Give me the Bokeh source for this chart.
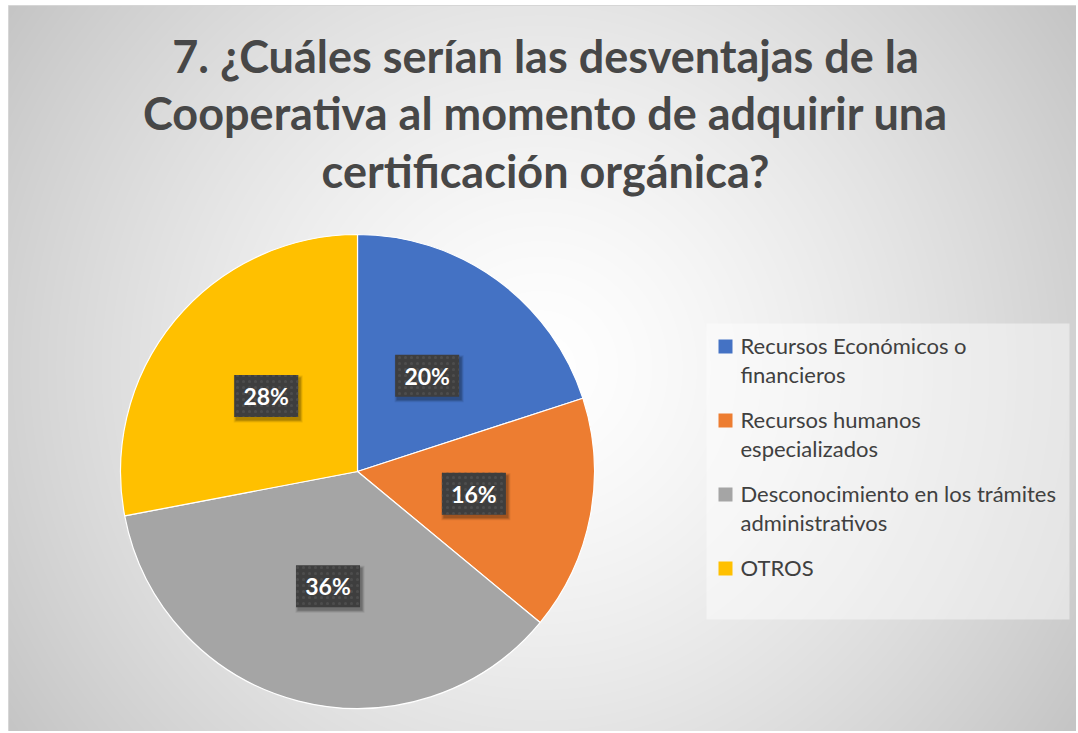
import numpy as np
from bokeh.plotting import figure
from bokeh.models import Range1d, ColumnDataSource
from bokeh.core.properties import value
from bokeh.embed import file_html
from bokeh.resources import INLINE

# ---- data ----
categories = ["Recursos Económicos o financieros",
              "Recursos humanos especializados",
              "Desconocimiento en los trámites administrativos",
              "OTROS"]
legend_labels = ["Recursos Económicos o\nfinancieros",
                 "Recursos humanos\nespecializados",
                 "Desconocimiento en los trámites\nadministrativos",
                 "OTROS"]
shares = [20, 16, 36, 28]
colors = ["#4472C4", "#ED7D31", "#A5A5A5", "#FFC000"]
title_lines = ["7. ¿Cuáles serían las desventajas de la",
               "Cooperativa al momento de adquirir una",
               "certificación orgánica?"]

W, H = 1076, 731
OX, OY = 0, H  # image px -> data: x = px - OX, y = OY - py

p = figure(width=W, height=H, output_backend="svg", toolbar_location=None,
           x_range=Range1d(0, W), y_range=Range1d(0, H), min_border=0)
p.axis.visible = False
p.grid.visible = False
p.outline_line_color = None
p.background_fill_color = "white"
p.border_fill_color = "white"

# ---- radial gradient background (chart area) ----
L, T = 8, 5
GW, GH = W - L, H - T
yy, xx = np.mgrid[0:GH, 0:GW]
cx, cy = 540 - L, GH - (368 - T)
d = np.sqrt((xx - cx) ** 2 + (yy - cy) ** 2) / np.sqrt(cx ** 2 + cy ** 2)
d = np.clip(d, 0, 1)
g = (255 - 58 * d ** 1.4).astype(np.uint8)
img = np.empty((GH, GW), dtype=np.uint32)
view = img.view(dtype=np.uint8).reshape((GH, GW, 4))
view[:, :, 0] = g
view[:, :, 1] = g
view[:, :, 2] = g
view[:, :, 3] = 255
p.image_rgba(image=[img], x=L, y=0, dw=GW, dh=GH)
p.quad(left=L, right=W + 2, top=OY - T, bottom=-2, fill_color=None,
       line_color="#d6d6d6", line_width=1)

# ---- pie ----
pcx, pcy, R = 357 - OX, OY - 471, 237
vals = np.array(shares, dtype=float)
frac = vals / vals.sum()
cum = np.concatenate([[0], np.cumsum(frac)])
start = np.pi / 2 - 2 * np.pi * cum[1:]
end = np.pi / 2 - 2 * np.pi * cum[:-1]
src = ColumnDataSource(dict(start=start, end=end, color=colors, cat=categories))
p.wedge(x=pcx, y=pcy, radius=R, start_angle="start", end_angle="end",
        fill_color="color", line_color="white", line_width=1.2, source=src)

# ---- data labels ----
mid = (start + end) / 2
lr = 0.5 * R
lx = pcx + lr * np.cos(mid)
ly = pcy + lr * np.sin(mid)
labels = [f"{v:.0f}%" for v in frac * 100]
lsrc = ColumnDataSource(dict(x=lx, y=ly, t=labels))
for off, a in [(5, 0.08), (3, 0.12), (1, 0.16)]:
    p.rect(x="x", y="y", width=64 + off, height=42 + off, width_units="screen",
           height_units="screen", fill_color="black", fill_alpha=a, line_color=None,
           source=ColumnDataSource(dict(x=lx + 2, y=ly - 3)))
p.rect(x="x", y="y", width=64, height=42, width_units="screen", height_units="screen",
       fill_color="#3e3e3e", line_color=None, hatch_pattern="dot", hatch_color="#4d4d4d",
       hatch_scale=6, hatch_weight=1.5, source=lsrc)
p.text(x="x", y="y", text="t", text_align="center", text_baseline="middle",
       text_color="white", text_font=value("Lato"), text_font_style="bold",
       text_font_size="23px", source=lsrc)

# ---- title ----
tsrc = ColumnDataSource(dict(x=[545 - OX] * 3, y=[OY - 55, OY - 112.5, OY - 170],
                             t=title_lines))
p.text(x="x", y="y", text="t", text_align="center", text_baseline="alphabetic",
       text_color="#474747", text_font=value("Lato"), text_font_style="bold",
       text_font_size="45px", source=tsrc)

# ---- legend ----
p.quad(left=706 - OX, right=1069 - OX, top=OY - 323, bottom=OY - 619,
       fill_color="white", fill_alpha=0.45, line_color=None)
item_base = [353, 427, 501, 575]
msrc = ColumnDataSource(dict(x=[725 - OX] * 4, y=[OY - v + 7 for v in item_base], c=colors))
p.rect(x="x", y="y", width=14, height=14, width_units="screen", height_units="screen",
       fill_color="c", line_color=None, source=msrc)
lx_, ly_, lt_ = [], [], []
for b, lab in zip(item_base, legend_labels):
    for j, line in enumerate(lab.split("\n")):
        lx_.append(740 - OX)
        ly_.append(OY - (b - 8 + 29 * j))
        lt_.append(line)
p.text(x="x", y="y", text="t", text_align="left", text_baseline="alphabetic",
       text_color="#404040", text_font=value("Lato"), text_font_size="22px",
       source=ColumnDataSource(dict(x=lx_, y=ly_, t=lt_)))

open("out.html", "w").write(file_html(p, INLINE))
